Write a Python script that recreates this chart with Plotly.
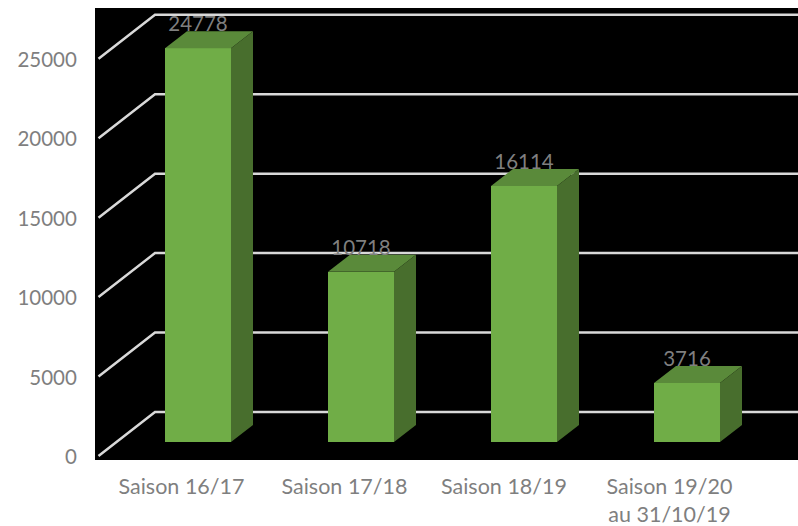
import plotly.graph_objects as go

categories = ["Saison 16/17", "Saison 17/18", "Saison 18/19", "Saison 19/20<br>au 31/10/19"]
values = [24778, 10718, 16114, 3716]
y_ticks = [0, 5000, 10000, 15000, 20000, 25000]

SLOT = 163.0            # px per category
K = 0.01589             # px per value unit
X_RANGE = [(95 - 198) / SLOT, (798 - 198) / SLOT]
Y_RANGE = [-18 / K, 434 / K]

HALF = 33 / SLOT        # half bar width
DX, DY = 22 / SLOT, 17 / K   # bar depth
xs = list(range(len(values)))
label_nudge = [-16.5, -16.5, -20, -17.5]   # category label offset from bar centre, px

FRONT, TOP, SIDE = "#70AD47", "#5A8A3A", "#486E2D"
TXT = "#7F7F7F"
FONT = "Lato"

fig = go.Figure()
fig.add_trace(go.Bar(x=xs, y=values, width=2 * HALF, marker=dict(color=FRONT, line=dict(width=0)),
                     hoverinfo="skip", showlegend=False))
for x, v in zip(xs, values):
    l, r = x - HALF, x + HALF
    fig.add_trace(go.Scatter(x=[l, r, r + DX, l + DX, l], y=[v, v, v + DY, v + DY, v], mode="lines",
                             fill="toself", fillcolor=TOP, line=dict(width=0), hoverinfo="skip", showlegend=False))
    fig.add_trace(go.Scatter(x=[r, r + DX, r + DX, r, r], y=[0, DY, v + DY, v, 0], mode="lines",
                             fill="toself", fillcolor=SIDE, line=dict(width=0), hoverinfo="skip", showlegend=False))
fig.add_trace(go.Scatter(x=xs, y=[v + 22 / K for v in values], mode="text", text=[str(v) for v in values],
                         textposition="middle center", textfont=dict(family=FONT, size=20.5, color=TXT),
                         hoverinfo="skip", showlegend=False))

# Perspective gridlines: front-left corner, back corner, then along the back wall
front_x, back_x = (98.5 - 198) / SLOT, (155 - 198) / SLOT
front_off, back_off = -14 / K, 30 / K
shapes = []
for t in y_ticks:
    shapes.append(dict(type="path", layer="below", xref="x", yref="y",
                       path=f"M {front_x} {t + front_off} L {back_x} {t + back_off} L {X_RANGE[1]} {t + back_off}",
                       line=dict(color="#D9D9D9", width=2.5)))

fig.update_layout(
    width=798, height=526, autosize=False,
    margin=dict(l=95, r=0, t=8, b=66, autoexpand=False),
    paper_bgcolor="white", plot_bgcolor="black",
    font=dict(family=FONT, size=20, color=TXT),
    shapes=shapes, bargap=0,
    xaxis=dict(range=X_RANGE, tickmode="array", tickvals=[x + n / SLOT for x, n in zip(xs, label_nudge)], ticktext=categories,
               showgrid=False, zeroline=False, showline=False, ticks="outside", ticklen=7,
               tickcolor="rgba(0,0,0,0)", tickangle=0, tickfont=dict(family=FONT, size=21.5, color=TXT)),
    yaxis=dict(range=Y_RANGE, tickmode="array", tickvals=[t - 15 / K for t in y_ticks], ticktext=[str(t) for t in y_ticks],
               showgrid=False, zeroline=False, showline=False, ticks="outside", ticklen=13,
               tickcolor="rgba(0,0,0,0)", tickfont=dict(family=FONT, size=20.5, color=TXT)),
)
fig.write_html("out.html", config={"displayModeBar": False},
               post_script="document.body.style.margin='0';document.documentElement.style.overflow='hidden';")
